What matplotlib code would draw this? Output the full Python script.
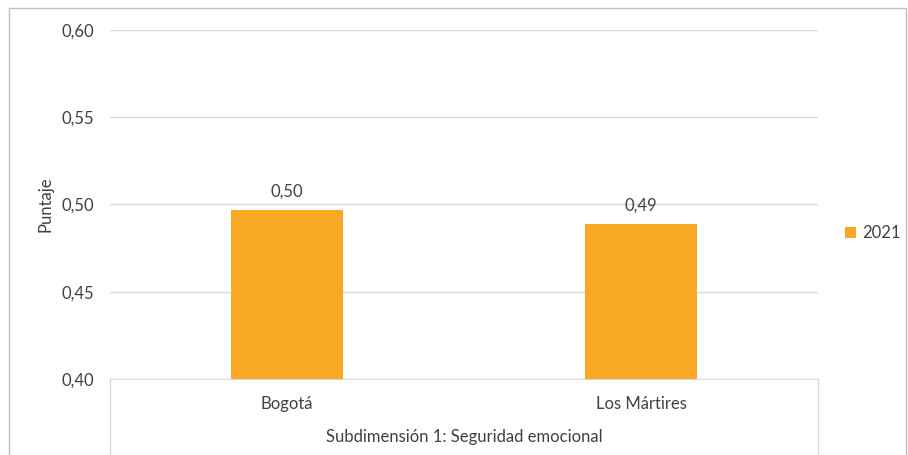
import matplotlib
matplotlib.use('Agg')
import matplotlib.pyplot as plt
from matplotlib.patches import Rectangle
from matplotlib.lines import Line2D

categories = ['Bogotá', 'Los Mártires']
values_2021 = [0.497, 0.489]
value_labels = ['0,50', '0,49']
series_name = '2021'
group_label = 'Subdimensión 1: Seguridad emocional'
y_ticks = [0.40, 0.45, 0.50, 0.55, 0.60]
y_tick_labels = ['0,40', '0,45', '0,50', '0,55', '0,60']

plt.rcParams['font.family'] = ['Lato', 'DejaVu Sans']
text_color = '#404040'
bar_color = '#F9A825'
line_color = '#D9D9D9'
fs = 12

fig = plt.figure(figsize=(9.08, 4.55), dpi=100)
ax = fig.add_axes([110 / 908, 1 - 379 / 455, 708 / 908, 349 / 455])

# outer chart border
fig.add_artist(Rectangle((9 / 908, -0.05), 897 / 908, 1.05 - 8 / 455,
                         transform=fig.transFigure, fill=False,
                         edgecolor='#BFBFBF', linewidth=1))

x = range(len(categories))
bars = ax.bar(x, values_2021, width=0.314, color=bar_color, label=series_name, zorder=3)
for b, lab in zip(bars, value_labels):
    ax.annotate(lab, (b.get_x() + b.get_width() / 2, b.get_height()),
                xytext=(0, 7), textcoords='offset points', ha='center', va='bottom',
                fontsize=fs, color=text_color)

ax.set_xlim(-0.5, 1.5)
ax.set_ylim(0.40, 0.60)
ax.set_yticks(y_ticks)
ax.set_yticklabels(y_tick_labels, fontsize=fs, color=text_color)
ax.tick_params(axis='y', length=0, pad=11.5)
ax.set_xticks([])
ax.grid(axis='y', color=line_color, linewidth=1, zorder=0)
for s in ['top', 'right', 'left']:
    ax.spines[s].set_visible(False)
ax.spines['bottom'].set_color(line_color)

# category axis boxes
depth = -(455 - 379) / 349
for xv in [0, 1]:
    ax.add_line(Line2D([xv, xv], [0, depth], transform=ax.transAxes,
                       color=line_color, linewidth=1, clip_on=False))
cat_y = 0.40 - 25 / 349 * 0.2
for i, c in enumerate(categories):
    ax.text(i, cat_y, c, ha='center', va='center', fontsize=fs, color=text_color)
fig.text(464 / 908, 1 - 437 / 455, group_label, ha='center', va='center',
         fontsize=fs, color=text_color)

ax.set_ylabel('Puntaje', fontsize=fs, color=text_color)
ax.yaxis.set_label_coords((53 - 110) / 708, 0.5)

ax.legend(loc='center left', bbox_to_anchor=(830 / 908, 1 - 233 / 455),
          bbox_transform=fig.transFigure, frameon=False, fontsize=fs,
          handlelength=0.65, handleheight=0.65, handletextpad=0.4,
          labelcolor=text_color)

fig.savefig('out.png', dpi=100)
